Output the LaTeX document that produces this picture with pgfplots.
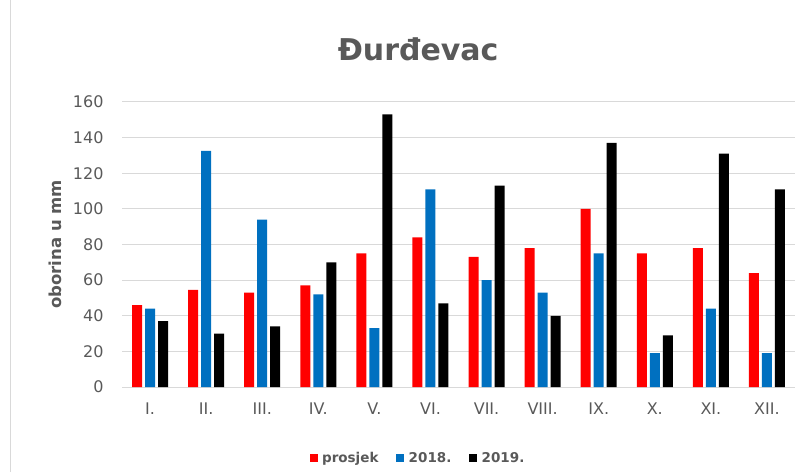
\documentclass[border=0pt]{standalone}
\usepackage{pgfplots}
\pgfplotsset{compat=1.18}
\usepackage{fontspec}
\setmainfont{DejaVu Sans}
\definecolor{txt}{HTML}{595959}
\definecolor{gridc}{HTML}{D9D9D9}
\definecolor{cblue}{HTML}{0070C0}
\definecolor{cred}{HTML}{FF0000}
\begin{document}
\begin{tikzpicture}[x=1pt,y=1pt]
\useasboundingbox (0,0) rectangle (805,472);
\draw[gridc,line width=1pt] (10,0) -- (10,472);
\begin{axis}[
  at={(122pt,85pt)}, anchor=south west,
  scale only axis, width=673pt, height=285pt,
  ybar=3pt, bar width=10pt,
  xmin=-0.5, xmax=11.5, ymin=0, ymax=160,
  ytick={0,20,...,160},
  xtick=data,
  xticklabels={I.,II.,III.,IV.,V.,VI.,VII.,VIII.,IX.,X.,XI.,XII.},
  axis x line*=bottom, axis y line*=left,
  x axis line style={gridc, line width=1pt, -},
  y axis line style={draw=none},
  ymajorgrids, grid style={gridc, line width=1pt},
  major tick length=0pt,
  tick label style={font=\fontsize{16}{19}\selectfont, text=txt},
  /pgf/number format/assume math mode=true,
  yticklabel style={xshift=-15pt},
  xticklabel style={yshift=-12pt},
  ylabel={\textbf{oborina u mm}},
  ylabel style={font=\fontsize{16.5}{19}\selectfont, text=txt, at={(-0.0996,0.5)}, anchor=center, rotate=0},
  title={\textbf{Đurđevac}},
  title style={font=\fontsize{30}{33}\selectfont, text=txt, at={(0.44,1.165)}, anchor=center},
  legend style={draw=none, at={(0.44,-0.249)}, anchor=center, font=\fontsize{13.5}{16}\selectfont\bfseries, text=txt, legend columns=3, /tikz/every even column/.append style={column sep=16pt}},
  legend image code/.code={\fill[#1] (0pt,-4pt) rectangle (8pt,4pt);},
]
\addplot[fill=cred, draw=none] coordinates {(0,46) (1,54.5) (2,53) (3,57) (4,75) (5,84) (6,73) (7,78) (8,100) (9,75) (10,78) (11,64)};
\addplot[fill=cblue, draw=none] coordinates {(0,44) (1,132.5) (2,94) (3,52) (4,33) (5,111) (6,60) (7,53) (8,75) (9,19) (10,44) (11,19)};
\addplot[fill=black, draw=none] coordinates {(0,37) (1,30) (2,34) (3,70) (4,153) (5,47) (6,113) (7,40) (8,137) (9,29) (10,131) (11,111)};
\legend{\,prosjek,\,2018.,\,2019.}
\end{axis}
\end{tikzpicture}
\end{document}
